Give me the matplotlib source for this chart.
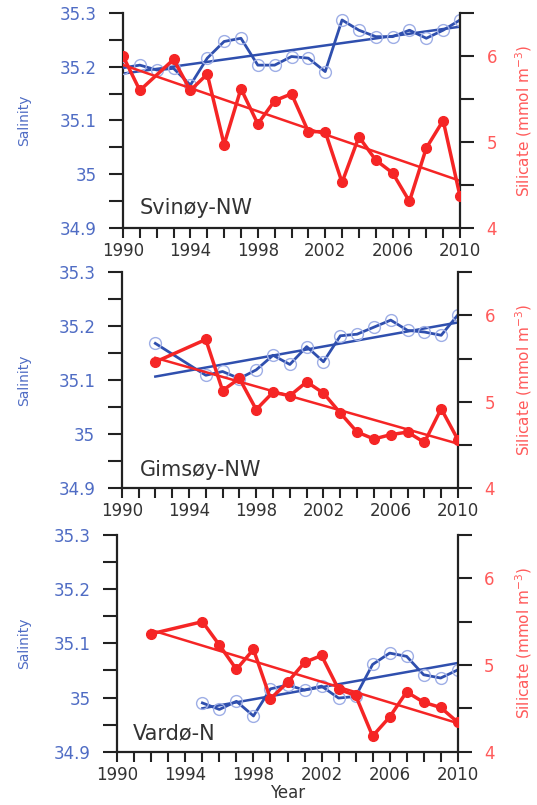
import numpy as np
import matplotlib
matplotlib.use("Agg")
import matplotlib.pyplot as plt
from matplotlib.ticker import MultipleLocator, FixedLocator

plt.rcParams['font.family'] = ['DejaVu Sans']

# ---------------- data ----------------
# Svinøy-NW
sv_sal_years = list(range(1990, 2011))
sv_sal = [35.198, 35.203, 35.194, 35.197, 35.166, 35.216, 35.247, 35.253, 35.203, 35.203,
          35.219, 35.216, 35.191, 35.287, 35.268, 35.256, 35.256, 35.268, 35.253, 35.268, 35.287]
sv_si_years = [1990, 1991] + list(range(1993, 2011))
sv_si = [6.00, 5.60, 5.96, 5.60, 5.79, 4.97, 5.62, 5.21, 5.48, 5.56,
         5.12, 5.12, 4.53, 5.06, 4.79, 4.64, 4.31, 4.93, 5.25, 4.37]

# Gimsøy-NW
gi_sal_years = [1992] + list(range(1995, 2011))
gi_sal = [35.168, 35.109, 35.116, 35.103, 35.119, 35.146, 35.129, 35.162, 35.134, 35.182,
          35.185, 35.198, 35.211, 35.192, 35.189, 35.183, 35.221]
gi_si_years = [1992] + list(range(1995, 2011))
gi_si = [5.46, 5.72, 5.13, 5.27, 4.91, 5.11, 5.07, 5.23, 5.10, 4.87,
         4.65, 4.57, 4.62, 4.65, 4.53, 4.92, 4.56]

# Vardø-N
va_sal_years = list(range(1995, 2011))
va_sal = [34.990, 34.978, 34.993, 34.966, 35.016, 35.023, 35.014, 35.021, 34.999, 35.002,
          35.061, 35.082, 35.076, 35.042, 35.036, 35.051]
va_si_years = [1992] + list(range(1995, 2011))
va_si = [5.36, 5.50, 5.23, 4.95, 5.18, 4.61, 4.80, 5.03, 5.11, 4.72,
         4.65, 4.18, 4.40, 4.69, 4.57, 4.51, 4.34]

station_names = ["Svinøy-NW", "Gimsøy-NW", "Vardø-N"]
sal_ticks = [34.9, 35.0, 35.1, 35.2, 35.3]
sal_tick_labels = ["34.9", "35", "35.1", "35.2", "35.3"]
si_ticks = [4, 5, 6]
si_tick_labels = ["4", "5", "6"]
year_ticks = [1990, 1994, 1998, 2002, 2006, 2010]

panels = [
    (sv_sal_years, sv_sal, sv_si_years, sv_si),
    (gi_sal_years, gi_sal, gi_si_years, gi_si),
    (va_sal_years, va_sal, va_si_years, va_si),
]

# ---------------- style ----------------
W, H = 537, 805
BLUE_LINE = "#2f4fae"
BLUE_MARK = "#9eaee6"
BLUE_TXT = "#4f6cc4"
RED = "#f52525"
RED_TXT = "#ff5a5a"
GREY_TXT = "#333333"

# axes boxes in pixels: left, right, top, bottom
boxes = [(123, 460, 13, 228), (121.7, 458, 272, 488.3), (117.3, 457.7, 535, 751.7)]
label_pos = [(0.05, 0.093), (0.054, 0.085), (0.046, 0.086)]

fig = plt.figure(figsize=(W / 100, H / 100), dpi=100)

for i, ((syr, sal, cyr, si), (l, r, t, b)) in enumerate(zip(panels, boxes)):
    ax = fig.add_axes([l / W, (H - b) / H, (r - l) / W, (b - t) / H])
    ax2 = ax.twinx()

    # salinity
    ax.plot(syr, sal, color=BLUE_LINE, lw=2.0, marker='o', ms=8.5,
            mfc='none', mec=BLUE_MARK, mew=1.0, zorder=3)
    p = np.polyfit(syr, sal, 1)
    xs = np.array([syr[0], syr[-1]])
    ax.plot(xs, np.polyval(p, xs), color=BLUE_LINE, lw=1.8, zorder=2)

    # silicate
    ax2.plot(cyr, si, color=RED, lw=2.5, marker='o', ms=7, mfc=RED, mec=RED, zorder=3)
    p2 = np.polyfit(cyr, si, 1)
    xs2 = np.array([cyr[0], cyr[-1]])
    ax2.plot(xs2, np.polyval(p2, xs2), color=RED, lw=1.8, zorder=2)

    ax.set_xlim(1990, 2010)
    ax.set_ylim(34.9, 35.3)
    ax2.set_ylim(4, 6.5)

    ax.set_yticks(sal_ticks)
    ax.set_yticklabels(sal_tick_labels)
    ax.yaxis.set_minor_locator(MultipleLocator(0.05))
    ax.set_xticks(year_ticks)
    ax.set_xticklabels([str(y) for y in year_ticks])
    ax.xaxis.set_minor_locator(MultipleLocator(1))
    ax2.set_yticks(si_ticks)
    ax2.set_yticklabels(si_tick_labels)
    ax2.yaxis.set_minor_locator(FixedLocator([4.5, 5.5, 6.5]))

    ax.tick_params(axis='y', which='both', direction='out', length=10, width=1.5,
                   color='#222222', labelcolor=BLUE_TXT, labelsize=12, pad=9)
    ax.tick_params(axis='x', which='both', direction='out', length=7, width=1.5,
                   color='#222222', labelcolor=GREY_TXT, labelsize=12, pad=3)
    ax2.tick_params(axis='y', which='both', direction='out', length=10, width=1.5,
                    color='#222222', labelcolor=RED_TXT, labelsize=12, pad=9)

    for sp in ['top', 'right']:
        ax.spines[sp].set_visible(False)
    for sp in ['top', 'left', 'bottom']:
        ax2.spines[sp].set_visible(False)
    for sp in ['left', 'bottom']:
        ax.spines[sp].set_linewidth(1.6)
        ax.spines[sp].set_color('#222222')
    ax2.spines['right'].set_linewidth(1.6)
    ax2.spines['right'].set_color('#222222')

    ax.set_ylabel("Salinity", color=BLUE_TXT, fontsize=10)
    ax.yaxis.set_label_coords((31 - l) / (r - l), 0.5)
    ax2.set_ylabel("Silicate (mmol m$^{-3}$)", color=RED_TXT, fontsize=11, rotation=90)
    ax2.yaxis.set_label_coords((513 - l) / (r - l), 0.5)

    ax.text(label_pos[i][0], label_pos[i][1], station_names[i], transform=ax.transAxes,
            fontsize=15, color=GREY_TXT, va='center', ha='left')

    ax.set_zorder(ax2.get_zorder() - 1)
    ax.patch.set_visible(False)
    ax2.patch.set_visible(False)

    if i == 2:
        ax.set_xlabel("Year", fontsize=12, color=GREY_TXT, labelpad=0)

fig.savefig("out.png", dpi=100, facecolor='white')
